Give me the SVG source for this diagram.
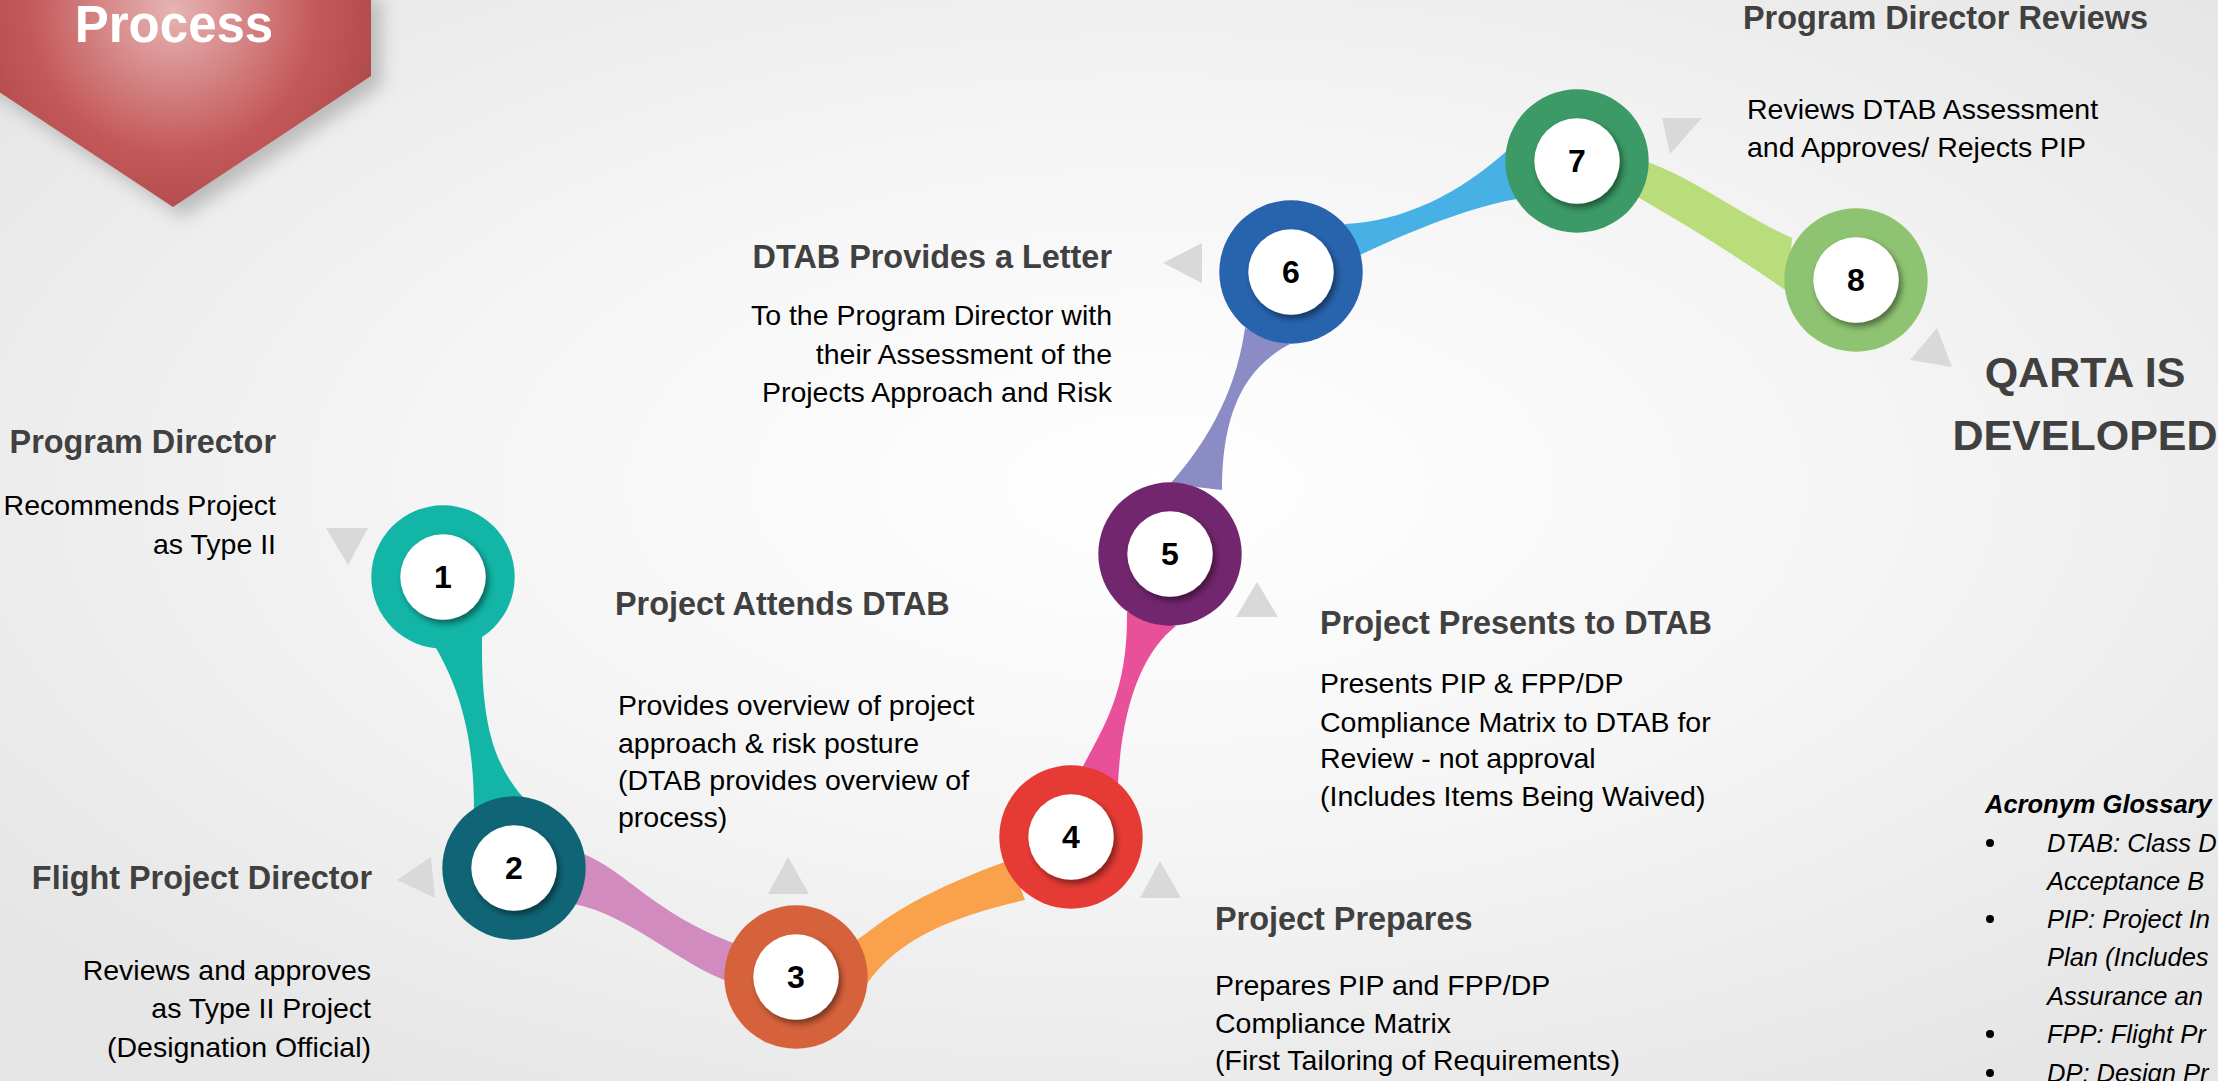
<svg xmlns="http://www.w3.org/2000/svg" width="2218" height="1081" viewBox="0 0 2218 1081">
  <defs>
    <radialGradient id="bg" cx="52%" cy="45%" r="65%">
      <stop offset="0" stop-color="#ffffff"/>
      <stop offset="0.5" stop-color="#f5f5f5"/>
      <stop offset="1" stop-color="#e6e6e6"/>
    </radialGradient>
    <radialGradient id="bannerFill" gradientUnits="userSpaceOnUse" cx="173" cy="10" r="260">
      <stop offset="0" stop-color="#e6b4b3"/>
      <stop offset="0.55" stop-color="#c4595a"/>
      <stop offset="1" stop-color="#a23f3f"/>
    </radialGradient>
    <filter id="bannerShadow" x="-20%" y="-20%" width="150%" height="150%">
      <feGaussianBlur stdDeviation="9"/>
    </filter>
    <filter id="dot" x="-30%" y="-30%" width="170%" height="170%">
      <feDropShadow dx="3" dy="4" stdDeviation="3" flood-color="#000" flood-opacity="0.45"/>
    </filter>
    <style>
      .hd { font-family: "Liberation Sans", Arial, sans-serif; font-weight: bold; font-size: 32.4px; fill: #404040; }
      .tx { font-family: "Liberation Sans", Arial, sans-serif; font-size: 28.5px; fill: #000000; }
      .num { font-family: "Liberation Sans", Arial, sans-serif; font-weight: bold; font-size: 32px; fill: #000000; text-anchor: middle; }
      .big { font-family: "Liberation Sans", Arial, sans-serif; font-weight: bold; font-size: 43px; fill: #404040; text-anchor: middle; }
      .gl { font-family: "Liberation Sans", Arial, sans-serif; font-style: italic; font-size: 25.5px; fill: #000000; }
      .end { text-anchor: end; }
      .tri { fill: #d9d9d9; }
      .inner { fill: #ffffff; filter: url(#dot); }
    </style>
  </defs>

  <!-- page background -->
  <rect width="2218" height="1081" fill="url(#bg)"/>

  <!-- title banner -->
  <g id="banner">
    <polygon points="-17,-2 381,-2 381,86 183,217 -17,86" fill="#7f7f7f" opacity="0.45" filter="url(#bannerShadow)"/>
    <polygon points="-25,-10 371,-10 371,76 173,207 -25,76" fill="url(#bannerFill)"/>
    <text x="174" y="42" font-family="Liberation Sans, Arial, sans-serif" font-weight="bold" font-size="51" fill="#ffffff" text-anchor="middle">Process</text>
  </g>

  <!-- connecting bands between the steps -->
  <g id="connectors">
    <path fill="#12b5a6" d="M436,648 C462,694 474,740 474,812 L530,805 C495,768 481,730 482,637 Z"/>
    <path fill="#d28bbf" d="M578,852 C625,868 650,912 736,944 L730,982 C680,965 630,915 574,904 Z"/>
    <path fill="#f9a24b" d="M850,945 C880,925 900,900 1010,860 L1025,900 C960,915 900,935 866,985 Z"/>
    <path fill="#e8509a" d="M1082,768 C1105,725 1128,690 1127,612 L1176,626 C1145,650 1122,700 1118,784 Z"/>
    <path fill="#8b8cc5" d="M1170,484 C1200,450 1235,400 1245,328 L1290,344 C1240,370 1222,420 1222,490 Z"/>
    <path fill="#47b1e6" d="M1345,224 C1400,222 1460,195 1512,146 L1522,198 C1480,205 1430,222 1358,256 Z"/>
    <path fill="#b9dd7a" d="M1641,160 C1690,175 1735,212 1792,238 L1788,292 C1745,262 1705,236 1636,196 Z"/>
  </g>

  <!-- pointer triangles -->
  <g id="pointers">
    <polygon class="tri" points="326,528 368,528 348,565"/>
    <polygon class="tri" points="397,880 431,857 435,898"/>
    <polygon class="tri" points="768,894 809,894 788,857"/>
    <polygon class="tri" points="1140,898 1181,898 1160,861"/>
    <polygon class="tri" points="1236,617 1278,617 1257,582"/>
    <polygon class="tri" points="1163,263 1202,243 1202,283"/>
    <polygon class="tri" points="1662,118 1702,118 1670,154"/>
    <polygon class="tri" points="1937,328 1910,360 1952,367"/>
  </g>

  <!-- steps -->
  <g id="step1">
    <circle cx="443" cy="577" r="71.7" fill="#12b5a6"/>
    <circle class="inner" cx="443" cy="577" r="42.7"/>
    <text class="num" x="443" y="588">1</text>
  </g>
  <g id="step2">
    <circle cx="514" cy="868" r="71.7" fill="#0f6576"/>
    <circle class="inner" cx="514" cy="868" r="42.7"/>
    <text class="num" x="514" y="879">2</text>
  </g>
  <g id="step3">
    <circle cx="796" cy="977" r="71.7" fill="#d6623b"/>
    <circle class="inner" cx="796" cy="977" r="42.7"/>
    <text class="num" x="796" y="988">3</text>
  </g>
  <g id="step4">
    <circle cx="1071" cy="837" r="71.7" fill="#e63b35"/>
    <circle class="inner" cx="1071" cy="837" r="42.7"/>
    <text class="num" x="1071" y="848">4</text>
  </g>
  <g id="step5">
    <circle cx="1170" cy="554" r="71.7" fill="#72266d"/>
    <circle class="inner" cx="1170" cy="554" r="42.7"/>
    <text class="num" x="1170" y="565">5</text>
  </g>
  <g id="step6">
    <circle cx="1291" cy="272" r="71.7" fill="#2863ae"/>
    <circle class="inner" cx="1291" cy="272" r="42.7"/>
    <text class="num" x="1291" y="283">6</text>
  </g>
  <g id="step7">
    <circle cx="1577" cy="161" r="71.7" fill="#3b9a66"/>
    <circle class="inner" cx="1577" cy="161" r="42.7"/>
    <text class="num" x="1577" y="172">7</text>
  </g>
  <g id="step8">
    <circle cx="1856" cy="280" r="71.7" fill="#8ec371"/>
    <circle class="inner" cx="1856" cy="280" r="42.7"/>
    <text class="num" x="1856" y="291">8</text>
  </g>

  <!-- step descriptions -->
  <g id="label1">
    <text class="hd end" x="276" y="453">Program Director</text>
    <text class="tx end" x="276" y="515">Recommends Project</text>
    <text class="tx end" x="276" y="554">as Type II</text>
  </g>
  <g id="label2">
    <text class="hd end" x="372" y="889">Flight Project Director</text>
    <text class="tx end" x="371" y="980">Reviews and approves</text>
    <text class="tx end" x="371" y="1018">as Type II Project</text>
    <text class="tx end" x="371" y="1057">(Designation Official)</text>
  </g>
  <g id="label3">
    <text class="hd" x="615" y="615">Project Attends DTAB</text>
    <text class="tx" x="618" y="715">Provides overview of project</text>
    <text class="tx" x="618" y="753">approach &amp; risk posture</text>
    <text class="tx" x="618" y="790">(DTAB provides overview of</text>
    <text class="tx" x="618" y="827">process)</text>
  </g>
  <g id="label4">
    <text class="hd" x="1215" y="930">Project Prepares</text>
    <text class="tx" x="1215" y="995">Prepares PIP and FPP/DP</text>
    <text class="tx" x="1215" y="1033">Compliance Matrix</text>
    <text class="tx" x="1215" y="1070">(First Tailoring of Requirements)</text>
  </g>
  <g id="label5">
    <text class="hd" x="1320" y="634">Project Presents to DTAB</text>
    <text class="tx" x="1320" y="693">Presents PIP &amp; FPP/DP</text>
    <text class="tx" x="1320" y="732">Compliance Matrix to DTAB for</text>
    <text class="tx" x="1320" y="768">Review - not approval</text>
    <text class="tx" x="1320" y="806">(Includes Items Being Waived)</text>
  </g>
  <g id="label6">
    <text class="hd end" x="1112" y="268">DTAB Provides a Letter</text>
    <text class="tx end" x="1112" y="325">To the Program Director with</text>
    <text class="tx end" x="1112" y="364">their Assessment of the</text>
    <text class="tx end" x="1112" y="402">Projects Approach and Risk</text>
  </g>
  <g id="label7">
    <text class="hd" x="1743" y="29">Program Director Reviews</text>
    <text class="tx" x="1747" y="119">Reviews DTAB Assessment</text>
    <text class="tx" x="1747" y="157">and Approves/ Rejects PIP</text>
  </g>
  <g id="label8">
    <text class="big" x="2085" y="387">QARTA IS</text>
    <text class="big" x="2085" y="450">DEVELOPED</text>
  </g>

  <!-- acronym glossary -->
  <g id="glossary">
    <text class="gl" x="1985" y="813" font-weight="bold">Acronym Glossary</text>
    <g fill="#000">
      <circle cx="1990" cy="843" r="4"/>
      <circle cx="1990" cy="919" r="4"/>
      <circle cx="1990" cy="1034" r="4"/>
      <circle cx="1990" cy="1073" r="4"/>
    </g>
    <text class="gl" x="2047" y="852">DTAB: Class D</text>
    <text class="gl" x="2047" y="890">Acceptance B</text>
    <text class="gl" x="2047" y="928">PIP: Project In</text>
    <text class="gl" x="2047" y="966">Plan (Includes</text>
    <text class="gl" x="2047" y="1005">Assurance an</text>
    <text class="gl" x="2047" y="1043">FPP: Flight Pr</text>
    <text class="gl" x="2047" y="1082">DP: Design Pr</text>
  </g>
</svg>
